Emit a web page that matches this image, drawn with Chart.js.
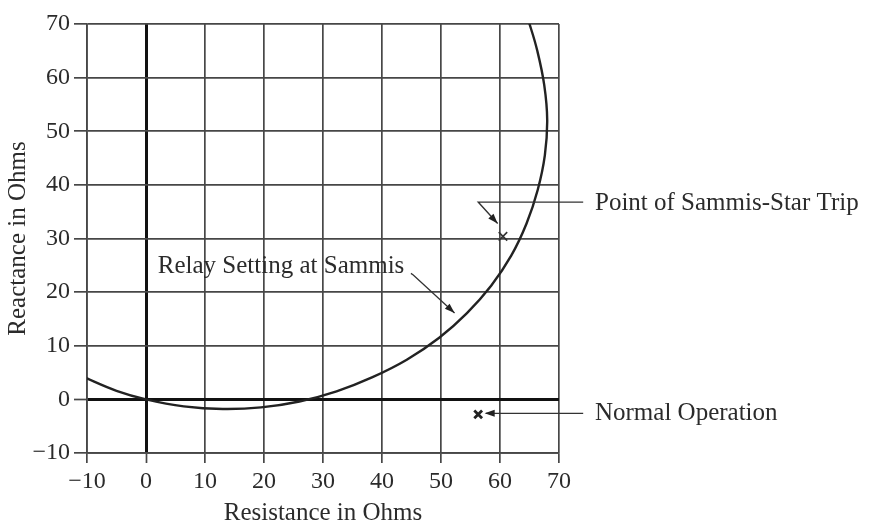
<!DOCTYPE html>
<html>
<head>
<meta charset="utf-8">
<script src="https://cdn.jsdelivr.net/npm/chart.js@4.4.0/dist/chart.umd.min.js"></script>
<style>
  html, body { margin: 0; padding: 0; background: #ffffff; }
  #wrap { width: 869px; height: 522px; position: relative; }
</style>
</head>
<body>
<div id="wrap"><canvas id="c" width="869" height="522"></canvas></div>
<script>
// ---- Data ----
const xTicks = [-10, 0, 10, 20, 30, 40, 50, 60, 70];
const yTicks = [-10, 0, 10, 20, 30, 40, 50, 60, 70];

// Relay setting at Sammis (mho characteristic), resistance / reactance in ohms
const relayResistance = [-14.5, -10, -5, 0, 6.4, 13.0, 19.5, 26.0, 32.3, 38.3, 44.2, 49.7, 54.4, 58.5, 61.9, 64.5, 66.4, 67.6, 68.0, 67.5, 66.3, 65.0, 64.5];
const relayReactance  = [6.2, 3.9, 1.6, 0, -1.3, -1.8, -1.5, -0.4, 1.5, 4.1, 7.4, 11.5, 16.1, 21.2, 26.8, 32.8, 39.1, 45.5, 52.1, 58.6, 65.1, 70, 71.4];

// Marked points
const tripPoint   = { r: 60.5, x: 30.4 };   // Point of Sammis-Star Trip
const normalPoint = { r: 56.3, x: -2.8 };   // Normal Operation

// Text labels
const labelRelay  = "Relay Setting at Sammis";
const labelTrip   = "Point of Sammis-Star Trip";
const labelNormal = "Normal Operation";
const xTitle = "Resistance in Ohms";
const yTitle = "Reactance in Ohms";

const FONT = "'Liberation Serif', 'Times New Roman', serif";
const TEXT = '#2b2b2b';
const GRID = '#474747';

const relayPts = relayResistance.map((r, i) => ({ x: r, y: relayReactance[i] }));
const fmt = v => (v < 0 ? '\u2212' + Math.abs(v) : String(v));

function arrowHead(ctx, fx, fy, tx, ty, len, w) {
  const a = Math.atan2(ty - fy, tx - fx);
  ctx.beginPath();
  ctx.moveTo(tx, ty);
  ctx.lineTo(tx - len * Math.cos(a) + w * Math.sin(a), ty - len * Math.sin(a) - w * Math.cos(a));
  ctx.lineTo(tx - len * Math.cos(a) - w * Math.sin(a), ty - len * Math.sin(a) + w * Math.cos(a));
  ctx.closePath();
  ctx.fill();
}

const annotations = {
  id: 'annotations',
  afterDraw(chart) {
    const ctx = chart.ctx;
    const xs = chart.scales.x, ys = chart.scales.y;
    const px = v => xs.getPixelForValue(v);
    const py = v => ys.getPixelForValue(v);
    ctx.save();
    ctx.fillStyle = TEXT;
    ctx.strokeStyle = '#333';
    ctx.font = '25px ' + FONT;
    ctx.textBaseline = 'middle';
    ctx.textAlign = 'left';

    // Relay setting label + arrow
    ctx.fillText(labelRelay, px(2.0), py(24.8));
    ctx.lineWidth = 1.3;
    const ax0 = px(45.3), ay0 = py(23.2), ax1 = px(52.3), ay1 = py(16.1);
    ctx.beginPath();
    ctx.moveTo(px(44.9), py(23.5));
    ctx.lineTo(ax0, ay0);
    ctx.lineTo(ax1, ay1);
    ctx.stroke();
    ctx.fillStyle = '#222';
    arrowHead(ctx, ax0, ay0, ax1, ay1, 10, 3.5);

    // Sammis-Star trip label + leader
    ctx.fillStyle = TEXT;
    ctx.fillText(labelTrip, px(76.1), py(36.6));
    ctx.beginPath();
    ctx.moveTo(px(74.1), py(36.8));
    ctx.lineTo(px(56.3), py(36.8));
    ctx.lineTo(px(59.6), py(32.8));
    ctx.stroke();
    ctx.fillStyle = '#222';
    arrowHead(ctx, px(56.3), py(36.8), px(59.6), py(32.8), 10, 3.5);

    // Normal operation label + leader
    ctx.fillStyle = TEXT;
    ctx.fillText(labelNormal, px(76.1), py(-2.6));
    ctx.beginPath();
    ctx.moveTo(px(74.1), py(-2.6));
    ctx.lineTo(px(57.6), py(-2.6));
    ctx.stroke();
    ctx.fillStyle = '#222';
    arrowHead(ctx, px(60), py(-2.6), px(57.4), py(-2.6), 10, 3.5);
    ctx.restore();
  }
};

const bg = {
  id: 'bg',
  beforeDraw(chart) {
    const ctx = chart.ctx;
    ctx.save();
    ctx.fillStyle = '#ffffff';
    ctx.fillRect(0, 0, chart.width, chart.height);
    ctx.restore();
  }
};

new Chart(document.getElementById('c'), {
  type: 'scatter',
  data: {
    datasets: [
      {
        data: relayPts,
        showLine: true,
        borderColor: '#222222',
        borderWidth: 2.4,
        pointRadius: 0,
        tension: 0.4,
        fill: false
      },
      {
        data: [{ x: tripPoint.r, y: tripPoint.x }],
        pointStyle: 'crossRot',
        pointRadius: 6,
        borderColor: '#333',
        pointBorderWidth: 1.6,
        borderWidth: 1.6
      },
      {
        data: [{ x: normalPoint.r, y: normalPoint.x }],
        pointStyle: 'crossRot',
        pointRadius: 5.5,
        borderColor: '#222',
        pointBorderWidth: 2.8,
        borderWidth: 2.8
      }
    ]
  },
  options: {
    responsive: false,
    animation: false,
    events: [],
    layout: { padding: { left: 0, top: 24, right: 310, bottom: 0 } },
    plugins: { legend: { display: false }, tooltip: { enabled: false }, title: { display: false } },
    scales: {
      x: {
        type: 'linear',
        min: -10, max: 70,
        afterFit(s) { s.height = 69; },
        afterBuildTicks(s) { s.ticks = xTicks.map(v => ({ value: v })); },
        ticks: { color: TEXT, font: { family: FONT, size: 24 }, padding: 4, maxRotation: 0, callback: fmt },
        grid: {
          color: c => (c.tick && c.tick.value === 0) ? '#111' : GRID,
          lineWidth: c => (c.tick && c.tick.value === 0) ? 3 : 1.7,
          tickColor: GRID,
          tickWidth: 1.7,
          tickLength: 10
        },
        border: { display: true, color: GRID, width: 1.7 },
        title: { display: true, text: xTitle, color: TEXT, font: { family: FONT, size: 25, lineHeight: 0.7 }, padding: { top: 0, bottom: 0 } }
      },
      y: {
        type: 'linear',
        min: -10, max: 70,
        afterFit(s) { s.width = 87; },
        afterBuildTicks(s) { s.ticks = yTicks.map(v => ({ value: v })); },
        ticks: { color: TEXT, font: { family: FONT, size: 24 }, padding: 4, callback: fmt },
        grid: {
          color: c => (c.tick && c.tick.value === 0) ? '#111' : GRID,
          lineWidth: c => (c.tick && c.tick.value === 0) ? 3 : 1.7,
          tickColor: GRID,
          tickWidth: 1.7,
          tickLength: 13
        },
        border: { display: true, color: GRID, width: 1.7 },
        title: { display: true, text: yTitle, color: TEXT, font: { family: FONT, size: 25, lineHeight: 1.2 }, padding: { top: 3, bottom: 0 } }
      }
    }
  },
  plugins: [bg, annotations]
});
</script>
</body>
</html>
